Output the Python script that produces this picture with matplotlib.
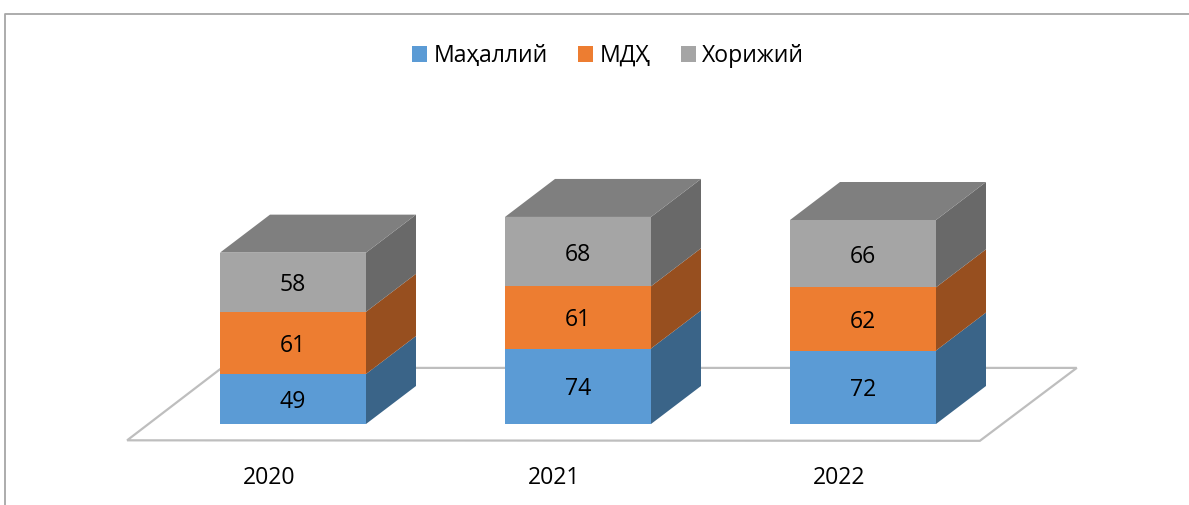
import numpy as np
import matplotlib
matplotlib.use("Agg")
import matplotlib.pyplot as plt
from matplotlib.patches import Patch, Polygon

plt.rcParams["font.family"] = ["Open Sans", "Noto Sans", "DejaVu Sans"]

years = ["2020", "2021", "2022"]
series_names = ["Маҳаллий", "МДҲ", "Хорижий"]
mahalliy = [49, 74, 72]
mdh = [61, 61, 62]
xorijiy = [58, 68, 66]

front_colors = ["#5B9BD5", "#ED7D31", "#A5A5A5"]
side_colors = ["#3A6488", "#974F1F", "#696969"]
top_color = "#7F7F7F"
line_color = "#BEBEBE"

W, H = 1189, 505
PX_X = 285.0  # pixels per category
PX_Y = 1.02  # pixels per value unit
bar_w = 146 / PX_X
dx = 50 / PX_X
dy = 38 / PX_Y
FS = 16.6

fig = plt.figure(figsize=(W / 100, H / 100), dpi=100)
ax = fig.add_axes([0, 0, 1, 1])
ax.set_xlim(-293 / PX_X, (W - 293) / PX_X)
ax.set_ylim(-(H - 424) / PX_Y, 424 / PX_Y)
ax.axis("off")

# floor of the 3d chart
floor = Polygon([(-0.582, -16), (2.41, -16.5), (2.75, 55), (-0.25, 55)], closed=True,
                facecolor="white", edgecolor=line_color, linewidth=1.6, zorder=1)
ax.add_patch(floor)

x = np.arange(len(years))
bottom = np.zeros(len(years))
for vals, front, side in zip([mahalliy, mdh, xorijiy], front_colors, side_colors):
    ax.bar(x, vals, bar_w, bottom=bottom, color=front, linewidth=0, zorder=3)
    for i, v in enumerate(vals):
        x1 = x[i] + bar_w / 2
        y0, y1 = bottom[i], bottom[i] + v
        ax.add_patch(Polygon([(x1, y0), (x1 + dx, y0 + dy), (x1 + dx, y1 + dy), (x1, y1)],
                             closed=True, facecolor=side, linewidth=0, zorder=2))
        ax.text(x[i], y0 + v / 2 - 3, str(v), ha="center", va="center", fontsize=FS,
                color="black", zorder=5)
    bottom = bottom + np.array(vals)

# top faces of the stacks
for i in range(len(years)):
    x0, x1 = x[i] - bar_w / 2, x[i] + bar_w / 2
    t = bottom[i]
    ax.add_patch(Polygon([(x0, t), (x1, t), (x1 + dx, t + dy), (x0 + dx, t + dy)],
                         closed=True, facecolor=top_color, linewidth=0, zorder=3))
    ax.text(x[i] - 24 / PX_X, -53, years[i], ha="center", va="center", fontsize=FS, color="black")

# chart frame, cropped on the right and the bottom
fig.add_artist(plt.Line2D([5 / W, 5 / W, 1], [0, 1 - 14 / H, 1 - 14 / H],
                          color="#A6A6A6", linewidth=1.3))

handles = [Patch(facecolor=c, linewidth=0) for c in front_colors]
fig.legend(handles, series_names, ncol=3, loc="center", bbox_to_anchor=(608 / W, 1 - 56 / H),
           frameon=False, fontsize=FS, handlelength=0.65, handleheight=0.65,
           handletextpad=0.28, columnspacing=1.32)

fig.savefig("out.png", dpi=100)
